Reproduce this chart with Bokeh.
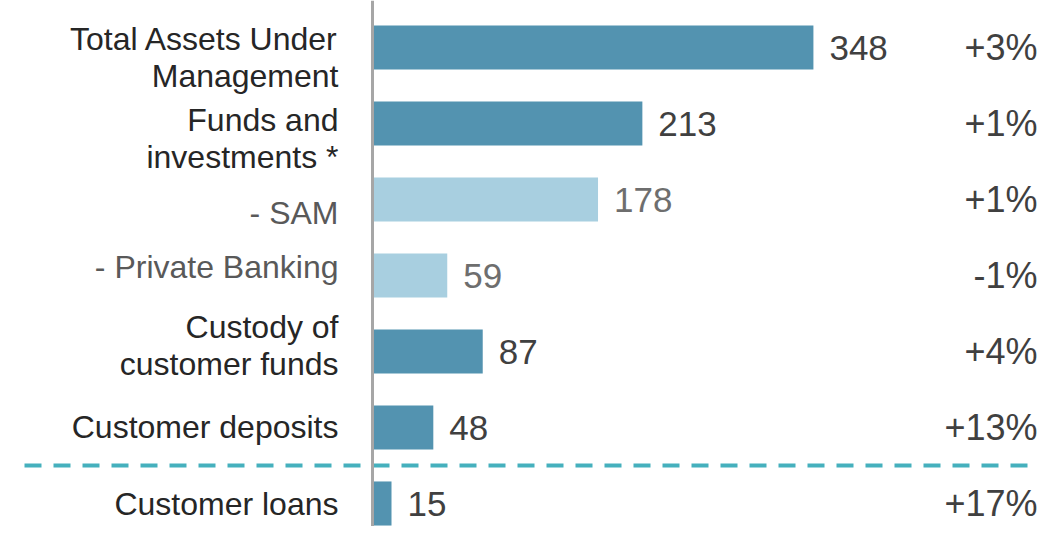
from bokeh.plotting import figure
from bokeh.models import Range1d, Span, ColumnDataSource
from bokeh.core.properties import value
from bokeh.embed import file_html
from bokeh.resources import INLINE

# ---- data ----
categories = ["Total Assets Under\nManagement", "Funds and\ninvestments *", "- SAM",
              "- Private Banking", "Custody of\ncustomer funds", "Customer deposits",
              "Customer loans"]
values = [348, 213, 178, 59, 87, 48, 15]
changes = ["+3%", "+1%", "+1%", "-1%", "+4%", "+13%", "+17%"]
is_sub = [False, False, True, True, False, False, False]

# ---- layout ----
W, H = 1045, 526
ppu = 1.267            # pixels per unit
axis_px = 372          # x position of the value axis inside the figure
row_px = 76.0
first_px = 47
x_start = -axis_px / ppu
x_end = (W - axis_px) / ppu
y_top = -first_px / row_px
y_bot = (H - first_px) / row_px

FONT = value("Liberation Sans")
dark_bar, light_bar = "#5393b0", "#a8cfe0"

idx = list(range(len(values)))
bar_colors = [light_bar if s else dark_bar for s in is_sub]
cat_colors = ["#595959" if s else "#262626" for s in is_sub]
val_colors = ["#6e6e6e" if s else "#404040" for s in is_sub]
label_dy = [10, 15, 13, -9, -6, -1, 0]

src = ColumnDataSource(dict(y=idx, v=values, cat=categories, chg=changes,
                            bc=bar_colors, cc=cat_colors, vc=val_colors,
                            vtxt=[str(v) for v in values], dy=label_dy,
                            zero=[0] * len(values), xe=[x_end] * len(values)))

p = figure(width=W, height=H, output_backend="svg", toolbar_location=None,
           x_range=Range1d(x_start, x_end), y_range=Range1d(y_bot, y_top),
           min_border=0)
p.axis.visible = False
p.grid.visible = False
p.outline_line_color = None
p.background_fill_color = "white"

p.hbar(y="y", left=0, right="v", height=0.58, fill_color="bc", line_color=None, source=src)

p.add_layout(Span(location=0, dimension="height", line_color="#a6a6a6", line_width=3))

# separator between deposits and loans
sep_y = 5.5
p.segment(x0=[(24 - axis_px) / ppu], x1=[(1031 - axis_px) / ppu], y0=[sep_y], y1=[sep_y],
          line_color="#45b0bd", line_width=4, line_dash="17 12")

p.text(x="zero", y="y", text="cat", source=src, x_offset=-34, y_offset="dy",
       text_align="right", text_baseline="middle", text_font=FONT,
       text_font_size="32px", text_color="cc", text_line_height=1.03)
p.text(x="v", y="y", text="vtxt", source=src, x_offset=16,
       text_align="left", text_baseline="middle", text_font=FONT,
       text_font_size="35px", text_color="vc")
p.text(x="xe", y="y", text="chg", source=src, x_offset=-8,
       text_align="right", text_baseline="middle", text_font=FONT,
       text_font_size="36px", text_color="#404040")

open("out.html", "w").write(file_html(p, INLINE))
